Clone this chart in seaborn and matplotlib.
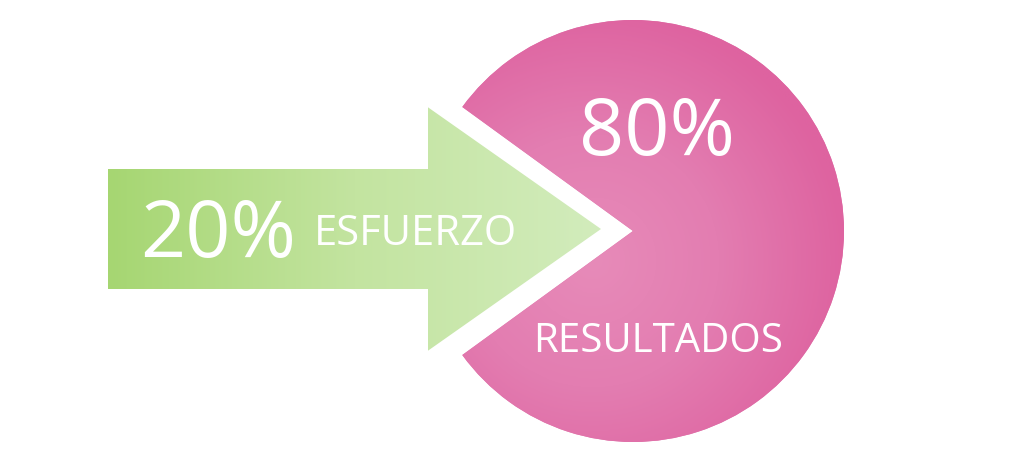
import numpy as np
import matplotlib
matplotlib.use("Agg")
import matplotlib.pyplot as plt
import seaborn as sns
from matplotlib.patches import Polygon
from matplotlib.colors import LinearSegmentedColormap

# ---- data ----
categories = ["ESFUERZO", "RESULTADOS"]
values = [20, 80]
pct_labels = ["20%", "80%"]

sns.set_theme(style="white")
plt.rcParams['font.family'] = ['Open Sans', 'DejaVu Sans']

W, H = 1031, 456
fig = plt.figure(figsize=(W / 100, H / 100), dpi=100)
ax = fig.add_axes([0, 0, 1, 1])

# pie geometry
cx, cy, R = 633, 232, 211
frac = values[0] / sum(values)
half = 180 * frac  # half-angle of the missing wedge

wedges, _ = ax.pie(values, center=(cx, cy), radius=R, startangle=180 - half,
                   colors=['none', '#e07aae'], frame=True,
                   wedgeprops=dict(linewidth=0))
ax.set_xlim(0, W)
ax.set_ylim(H, 0)
ax.set_aspect('equal')
ax.axis('off')

# radial gradient for the 80% slice
pink = LinearSegmentedColormap.from_list('pink', ['#e78bb9', '#e37db1', '#de63a0'])
n = 400
xs = np.linspace(cx - R, cx + R, n)
ys = np.linspace(cy - R, cy + R, n)
XX, YY = np.meshgrid(xs, ys)
gx, gy = cx - 40, cy + 30
d = np.sqrt((XX - gx) ** 2 + (YY - gy) ** 2) / (R * 1.2)
im = ax.imshow(np.clip(d, 0, 1), cmap=pink, vmin=0, vmax=1, origin='lower',
               extent=(cx - R, cx + R, cy - R, cy + R), interpolation='bilinear', zorder=2)
im.set_clip_path(wedges[1])

# arrow pointing into the missing wedge
gap = 32
tip = cx - gap
head_x = 428
shaft_left = 108
shaft_h = 60
ay = cy - 2
hh = (tip - head_x) * np.tan(np.radians(half)) - 4
arrow_pts = [(shaft_left, ay - shaft_h), (head_x, ay - shaft_h), (head_x, ay - hh),
             (tip, ay), (head_x, ay + hh), (head_x, ay + shaft_h), (shaft_left, ay + shaft_h)]
arrow = Polygon(arrow_pts, closed=True, facecolor='none', edgecolor='none')
ax.add_patch(arrow)
green = LinearSegmentedColormap.from_list('green', ['#a6d672', '#c3e4a0', '#d2ecbc'])
gxs = np.linspace(0, 1, 300)[None, :].repeat(2, axis=0)
im2 = ax.imshow(gxs, cmap=green, vmin=0, vmax=1, origin='lower',
                extent=(shaft_left, tip, ay - hh, ay + hh), interpolation='bilinear',
                aspect='auto', zorder=2)
im2.set_clip_path(arrow)
ax.set_xlim(0, W)
ax.set_ylim(H, 0)

# texts (baseline-anchored)
ax.text(218, 257, pct_labels[0], color='white', fontsize=57, ha='center', va='baseline', zorder=5)
ax.text(415, 245, categories[0], color='white', fontsize=30, ha='center', va='baseline', zorder=5)
ax.text(657, 155, pct_labels[1], color='white', fontsize=57, ha='center', va='baseline', zorder=5)
ax.text(658, 352, categories[1], color='white', fontsize=29, ha='center', va='baseline', zorder=5)

fig.savefig('out.png', dpi=100, facecolor='white')
